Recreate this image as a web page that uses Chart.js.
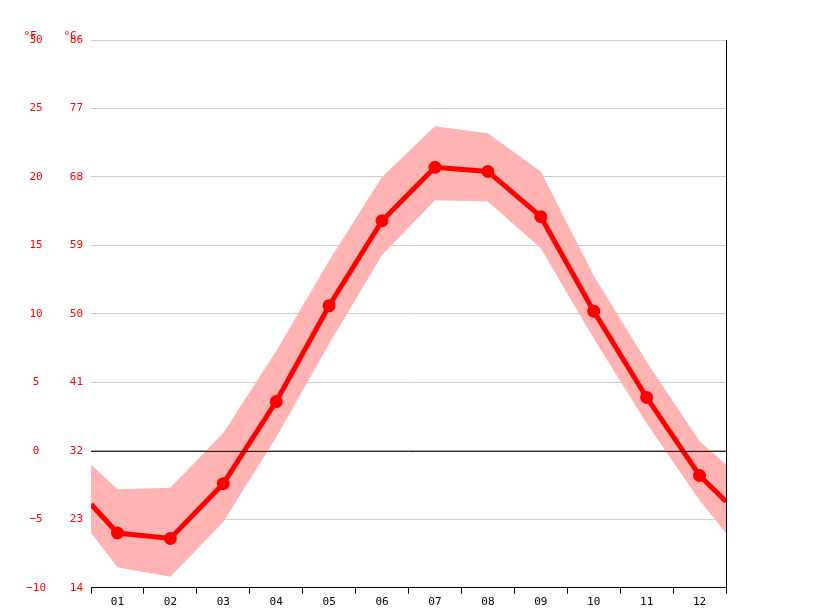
<!DOCTYPE html>
<html><head><meta charset="utf-8">
<script src="https://cdn.jsdelivr.net/npm/chart.js@4"></script>
<style>html,body{margin:0;padding:0;background:#fff}#wrap{width:815px;height:611px}</style>
</head><body><div id="wrap"><canvas id="c"></canvas></div>
<script>
// months at 1..12, edges at 0.5 and 12.5
const monthPos = [0.5, 1, 2, 3, 4, 5, 6, 7, 8, 9, 10, 11, 12, 12.5];
const meanTemp = [-3.9, -6.0, -6.4, -2.4, 3.6, 10.6, 16.8, 20.7, 20.4, 17.1, 10.2, 3.9, -1.8, -3.7];
const maxTemp = [-1.0, -2.8, -2.7, 1.3, 7.3, 13.9, 20.0, 23.7, 23.2, 20.4, 12.8, 6.5, 0.7, -1.0];
const minTemp = [-6.0, -8.5, -9.2, -5.2, 1.0, 7.8, 14.3, 18.3, 18.2, 14.8, 8.2, 2.0, -3.6, -6.0];
const cTicks = [-10, -5, 0, 5, 10, 15, 20, 25, 30];

const pts = arr => arr.map((v, i) => ({ x: monthPos[i], y: v }));
const font = { family: 'DejaVu Sans Mono', size: 11 };

const extras = {
  id: 'extras',
  afterDraw(chart) {
    const { ctx, chartArea: a, scales } = chart;
    ctx.save();
    // zero line
    const y0 = scales.y.getPixelForValue(0);
    ctx.strokeStyle = '#000'; ctx.lineWidth = 1;
    ctx.beginPath(); ctx.moveTo(a.left, y0 + 0.5); ctx.lineTo(a.right, y0 + 0.5); ctx.stroke();
    // right border
    ctx.beginPath(); ctx.moveTo(a.right + 0.5, 40); ctx.lineTo(a.right + 0.5, a.bottom); ctx.stroke();
    ctx.fillStyle = '#f00'; ctx.font = '11px DejaVu Sans Mono'; ctx.textAlign = 'center';
    ctx.fillText('°F', 30, 39); ctx.fillText('°C', 70, 39);
    ctx.restore();
  }
};

new Chart(document.getElementById('c'), {
  type: 'line',
  data: {
    datasets: [
      { data: pts(meanTemp), borderColor: '#f00', backgroundColor: '#f00', borderWidth: 5,
        pointRadius: monthPos.map(p => Number.isInteger(p) ? 4 : 0), tension: 0, order: 0 },
      { data: pts(maxTemp), borderWidth: 0, pointRadius: 0, fill: '+1',
        backgroundColor: 'rgba(255,179,179,1)', tension: 0, order: 2 },
      { data: pts(minTemp), borderWidth: 0, pointRadius: 0, fill: false, tension: 0, order: 2 }
    ]
  },
  plugins: [extras],
  options: {
    responsive: true, maintainAspectRatio: false, animation: false,
    layout: { padding: { top: 40, right: 89, bottom: 0, left: 0 } },
    plugins: { legend: { display: false }, tooltip: { enabled: false } },
    scales: {
      x: {
        type: 'linear', min: 0.5, max: 12.5,
        afterBuildTicks: s => { s.ticks = []; for (let v = 0.5; v <= 12.5; v += 0.5) s.ticks.push({ value: v }); },
        ticks: { autoSkip: false, maxRotation: 0, color: '#000', font, padding: 2,
          callback: v => Number.isInteger(v) ? String(v).padStart(2, '0') : '' },
        grid: { drawOnChartArea: false, tickLength: 6,
          color: c => Number.isInteger(c.tick.value) ? 'rgba(0,0,0,0)' : '#000' },
        border: { color: '#000' }
      },
      yF: {
        position: 'left', min: -10, max: 30,
        afterBuildTicks: s => { s.ticks = cTicks.map(v => ({ value: v })); },
        afterFit: s => { s.width = 45; },
        ticks: { color: '#f00', font, crossAlign: 'center', padding: 0,
          callback: v => String(Math.round(v * 9 / 5 + 32)) },
        grid: { display: false }, border: { display: false }
      },
      y: {
        position: 'left', min: -10, max: 30,
        afterBuildTicks: s => { s.ticks = cTicks.map(v => ({ value: v })); },
        afterFit: s => { s.width = 46; },
        ticks: { color: '#f00', font, crossAlign: 'center', padding: 0,
          callback: v => v < 0 ? '−' + Math.abs(v) : String(v) },
        grid: { color: '#ccc', drawTicks: false }, border: { display: false }
      }
    }
  }
});
</script></body></html>
